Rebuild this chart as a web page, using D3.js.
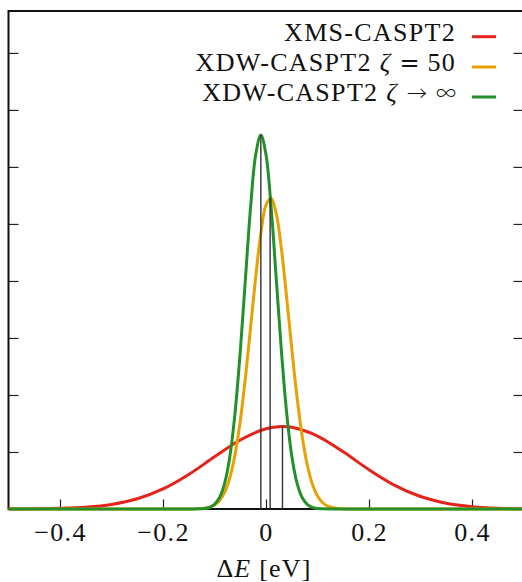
<!DOCTYPE html>
<html>
<head>
<meta charset="utf-8">
<script src="https://cdn.jsdelivr.net/npm/d3@7"></script>
<style>
  html, body { margin: 0; padding: 0; background: #fff; }
  svg { display: block; }
</style>
</head>
<body>
<svg id="chart" width="522" height="582"></svg>
<script>
// ---- data ----
const seriesNames = ["XMS-CASPT2", "XDW-CASPT2 ζ = 50", "XDW-CASPT2 ζ → ∞"];
const seriesColors = ["#e6231b", "#e8a100", "#23902a"];

// XMS-CASPT2 (red) distribution
const redX = [-0.50,-0.45,-0.40,-0.35,-0.30,-0.25,-0.20,-0.15,-0.10,-0.05,0.00,0.03,0.05,0.10,0.15,0.20,0.25,0.30,0.35,0.40,0.45,0.50];
const redY = [0.002,0.007,0.022,0.063,0.160,0.358,0.703,1.211,1.829,2.422,2.813,2.890,2.865,2.560,2.005,1.378,0.830,0.438,0.203,0.083,0.029,0.009];

// XDW-CASPT2 zeta = 50 (orange) distribution
const orangeX = [-0.50,-0.16,-0.14,-0.12,-0.11,-0.10,-0.09,-0.08,-0.07,-0.06,-0.05,-0.04,-0.03,-0.02,-0.01,0.00,0.01,0.02,0.03,0.04,0.05,0.06,0.07,0.08,0.09,0.10,0.11,0.12,0.13,0.14,0.16,0.18,0.50];
const orangeY = [0,0.000,0.003,0.023,0.059,0.137,0.297,0.597,1.114,1.926,3.089,4.600,6.350,8.140,9.670,10.660,10.900,10.350,9.110,7.440,5.630,3.960,2.580,1.560,0.875,0.455,0.220,0.098,0.041,0.016,0.002,0.000,0];

// XDW-CASPT2 zeta -> infinity (green) distribution
const greenX = [-0.50,-0.15,-0.13,-0.12,-0.11,-0.10,-0.09,-0.08,-0.07,-0.06,-0.05,-0.04,-0.03,-0.02,-0.01,0.00,0.01,0.02,0.03,0.04,0.05,0.06,0.07,0.08,0.09,0.10,0.11,0.13,0.15,0.50];
const greenY = [0,0.000,0.005,0.019,0.059,0.164,0.411,0.926,1.871,3.392,5.520,8.060,10.570,12.430,13.120,12.430,10.570,8.060,5.520,3.392,1.871,0.926,0.411,0.164,0.059,0.019,0.005,0.000,0.000,0];

// mean markers (vertical lines): position and height
const meanX = [0.032, 0.008, -0.010];
const meanY = [2.89, 10.92, 13.12];

const xTicks = [-0.4, -0.2, 0, 0.2, 0.4];
const yTicks = [2, 4, 6, 8, 10, 12, 14, 16];

// ---- layout ----
const FONT = '"Liberation Serif", "Times New Roman", serif';
const MATH = '"Noto Sans CJK JP", "DejaVu Sans", sans-serif';
const EQ = '"DejaVu Sans", sans-serif';
const svg = d3.select("#chart");
const L = 8.5, R = 523.5, T = 11, B = 509;
const x = d3.scaleLinear().domain([-0.5, 0.5]).range([L, R]);
const y = d3.scaleLinear().domain([0, 17.47]).range([B, T]);

svg.append("defs").append("clipPath").attr("id", "clip")
  .append("rect").attr("x", L).attr("y", T - 2).attr("width", R - L).attr("height", B - T + 4);

// axes ticks (inward)
const fmt = d => d === 0 ? "0" : (d < 0 ? "\u2212" + Math.abs(d).toFixed(1) : d.toFixed(1));
const xAxis = svg.append("g").attr("transform", `translate(0,${B})`)
  .call(d3.axisBottom(x).tickValues(xTicks).tickSizeInner(-9.5).tickSizeOuter(0).tickPadding(0).tickFormat(fmt));
xAxis.select(".domain").remove();
xAxis.selectAll(".tick line").attr("stroke", "#222").attr("stroke-width", 1.2);
xAxis.selectAll(".tick text")
  .attr("y", 32).attr("dy", null)
  .style("font-family", FONT).style("font-size", "26px").style("letter-spacing", "1.4px")
  .attr("fill", "#111");

const yAxisL = svg.append("g").attr("transform", `translate(${L},0)`)
  .call(d3.axisLeft(y).tickValues(yTicks).tickSizeInner(-10).tickSizeOuter(0).tickFormat(""));
yAxisL.select(".domain").remove();
yAxisL.selectAll(".tick line").attr("stroke", "#222").attr("stroke-width", 1.2);

const yAxisR = svg.append("g").attr("transform", `translate(${R},0)`)
  .call(d3.axisRight(y).tickValues(yTicks).tickSizeInner(-10).tickSizeOuter(0).tickFormat(""));
yAxisR.select(".domain").remove();
yAxisR.selectAll(".tick line").attr("stroke", "#222").attr("stroke-width", 1.2);

// frame
svg.append("rect").attr("x", L).attr("y", T).attr("width", R - L).attr("height", B - T)
  .attr("fill", "none").attr("stroke", "#111").attr("stroke-width", 2);

// curves
const line = d3.line().x(d => x(d[0])).y(d => y(d[1])).curve(d3.curveCatmullRom.alpha(0.5));
const curves = [d3.zip(redX, redY), d3.zip(orangeX, orangeY), d3.zip(greenX, greenY)];
const plot = svg.append("g").attr("clip-path", "url(#clip)");
curves.forEach((c, i) => {
  plot.append("path").datum(c).attr("d", line)
    .attr("fill", "none").attr("stroke", seriesColors[i]).attr("stroke-width", 3)
    .attr("stroke-linejoin", "round");
});

// mean lines
meanX.forEach((m, i) => {
  plot.append("line").attr("x1", x(m)).attr("x2", x(m)).attr("y1", y(0)).attr("y2", y(meanY[i]))
    .attr("stroke", "#333").attr("stroke-width", 1.4);
});

// legend  [text, kind] kind: 0 roman, 1 italic, 2 "=" symbol, 3 arrow / infinity
const legend = svg.append("g");
const legY = [40.7, 71, 101];
const legendParts = [
  [["XMS-CASPT2", 0]],
  [["XDW-CASPT2 ", 0], ["ζ", 1], ["=", 2], [" 50", 0]],
  [["XDW-CASPT2 ", 0], ["ζ", 1], ["→", 3], ["∞", 3]]
];
legendParts.forEach((parts, i) => {
  const t = legend.append("text").attr("x", 456).attr("y", legY[i])
    .attr("text-anchor", "end").attr("fill", "#111")
    .style("font-family", FONT).style("font-size", "26px").style("letter-spacing", "1.3px");
  parts.forEach(p => {
    const s = t.append("tspan").text(p[0]);
    if (p[1] === 1) s.style("font-style", "italic");
    if (p[1] === 2) s.style("font-family", EQ).style("font-size", "24px").style("letter-spacing", "0px").attr("dx", 8);
    if (p[1] === 3) s.style("font-family", MATH).style("font-size", "20px").style("font-weight", 300)
      .style("letter-spacing", "0px").attr("dx", 9);
  });
  legend.append("line").attr("x1", 472).attr("x2", 496)
    .attr("y1", legY[i] - 4).attr("y2", legY[i] - 4)
    .attr("stroke", seriesColors[i]).attr("stroke-width", 3);
});

// x label
const xl = svg.append("text").attr("x", 264).attr("y", 577).attr("text-anchor", "middle")
  .attr("fill", "#111").style("font-family", FONT).style("font-size", "26px").style("letter-spacing", "1.2px");
xl.append("tspan").text("Δ");
xl.append("tspan").text("E").style("font-style", "italic");
xl.append("tspan").text(" [eV]");
</script>
</body>
</html>
